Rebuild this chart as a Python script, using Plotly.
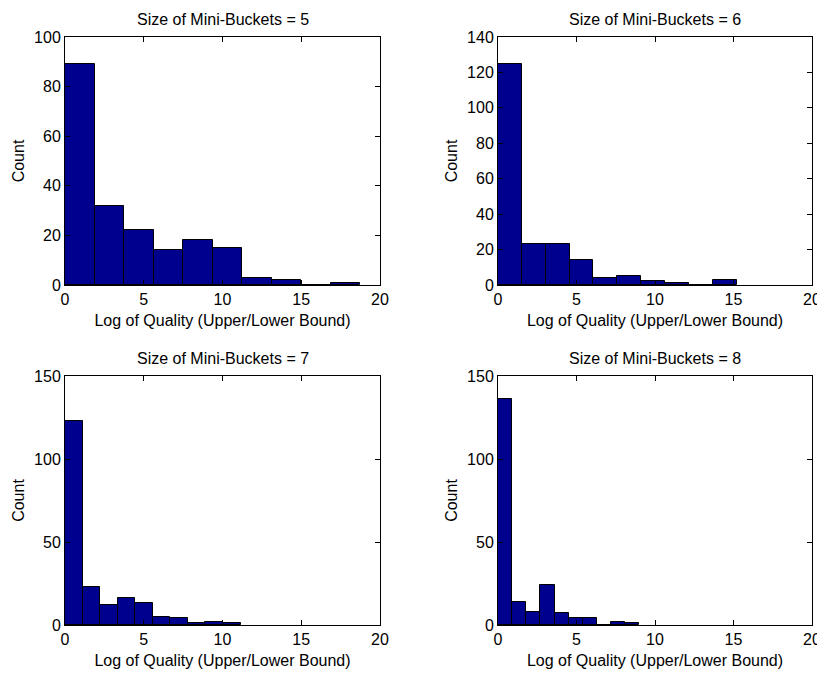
import plotly.graph_objects as go

# ---- data ----
titles = ["Size of Mini-Buckets = 5", "Size of Mini-Buckets = 6",
          "Size of Mini-Buckets = 7", "Size of Mini-Buckets = 8"]
counts_5 = [89, 32, 22, 14, 18, 15, 3, 2, 0, 1]
counts_6 = [125, 23, 23, 14, 4, 5, 2, 1, 0, 3]
counts_7 = [123, 23, 12, 16, 13, 5, 4, 1, 2, 1]
counts_8 = [136, 14, 8, 24, 7, 4, 4, 0, 2, 1]
upper_edges = [18.75, 15.2, 11.15, 9.0]   # data max for each histogram (min 0)
y_max = [100, 140, 150, 150]
y_dtick = [20, 20, 50, 50]
x_ticks = [0, 5, 10, 15, 20]
x_label = "Log of Quality (Upper/Lower Bound)"
y_label = "Count"

all_counts = [counts_5, counts_6, counts_7, counts_8]

FONT = "Liberation Sans, Arial, Helvetica, sans-serif"
BAR = "#00008F"

# page has an 8px body margin; figure is sized to fill the rest of the window
OFF = 8
W, H = 825 - OFF, 675 - OFF


def px_x(p):
    return (p - OFF) / W


def px_y(p):
    return 1 - (p - OFF) / H


xdom = [[px_x(65), px_x(380)], [px_x(498), px_x(812)]]
ydom = [[px_y(285), px_y(37)], [px_y(625), px_y(376)]]

fig = go.Figure()
layout = dict(width=W, height=H, margin=dict(l=0, r=0, t=0, b=0, autoexpand=False),
              paper_bgcolor="white", plot_bgcolor="white", showlegend=False,
              font=dict(family=FONT, size=16, color="black"), annotations=[])

for i, counts in enumerate(all_counts):
    n = len(counts)
    w = upper_edges[i] / n
    lefts = [k * w for k in range(n)]
    ax = "" if i == 0 else str(i + 1)
    fig.add_trace(go.Bar(x=lefts, y=counts, width=[w] * n, offset=0,
                         marker=dict(color=BAR, line=dict(color="black", width=1)),
                         xaxis="x" + ax, yaxis="y" + ax, hoverinfo="x+y"))
    col, row = i % 2, i // 2
    common = dict(showline=True, linecolor="black", linewidth=1, mirror="ticks",
                  ticks="inside", ticklen=5, tickcolor="black", showgrid=False,
                  zeroline=False, automargin=False,
                  tickfont=dict(family=FONT, size=16, color="black"))
    layout["xaxis" + ax] = dict(domain=xdom[col], range=[0, 20], tickmode="array",
                                tickvals=x_ticks, anchor="y" + ax,
                                title=dict(text=x_label, standoff=7,
                                           font=dict(family=FONT, size=16)),
                                **common)
    layout["yaxis" + ax] = dict(domain=ydom[row], range=[0, y_max[i]], dtick=y_dtick[i],
                                anchor="x" + ax,
                                title=dict(text=y_label, standoff=5,
                                           font=dict(family=FONT, size=16)),
                                **common)
    layout["annotations"].append(dict(
        text=titles[i], x=sum(xdom[col]) / 2, y=ydom[row][1], xref="paper", yref="paper",
        xanchor="center", yanchor="bottom", yshift=7, showarrow=False,
        font=dict(family=FONT, size=16, color="black")))

fig.update_layout(**layout)
fig.update_layout(bargap=0)
fig.write_html("out.html")
